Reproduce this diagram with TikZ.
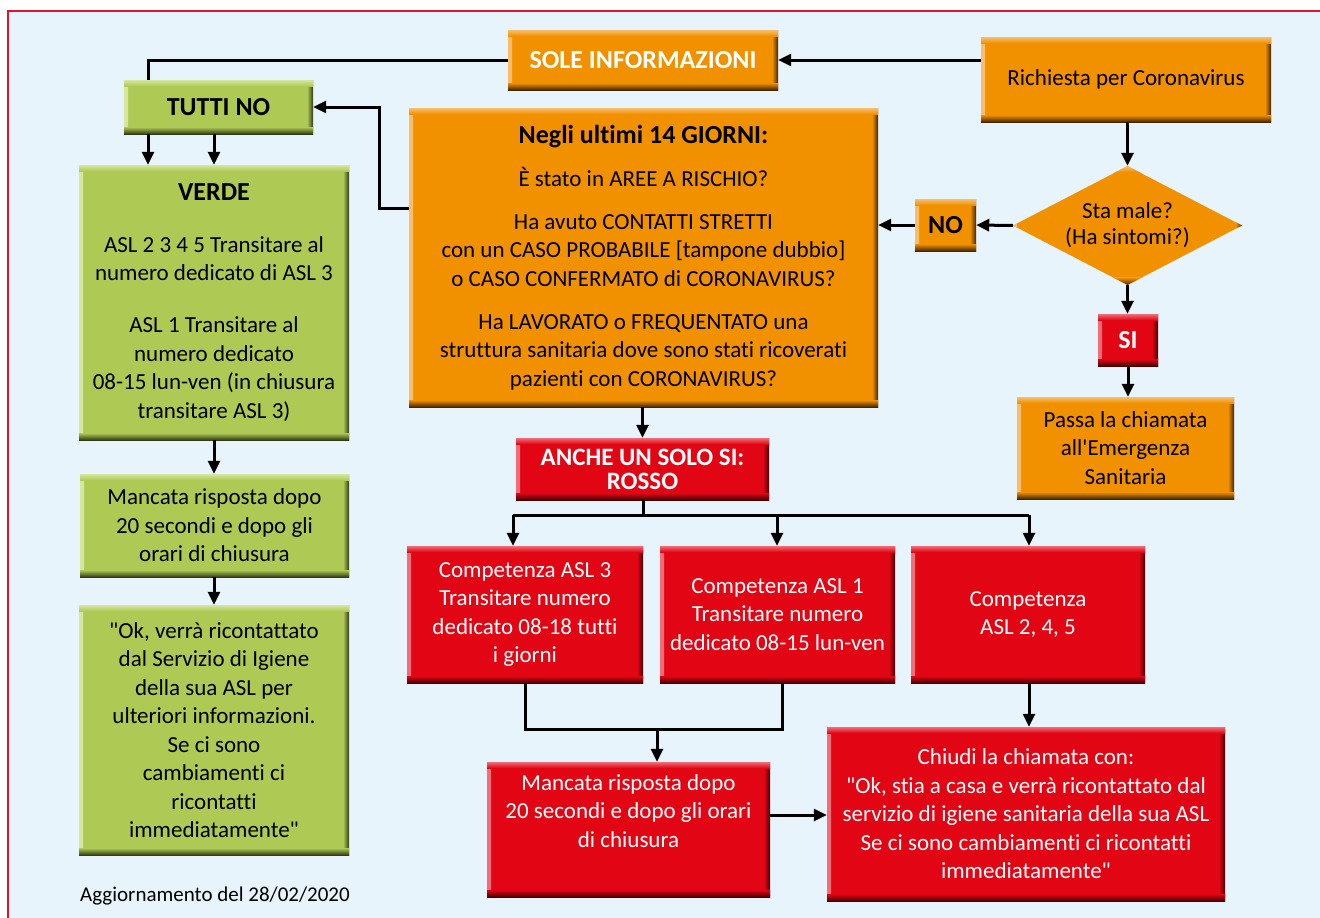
\documentclass[tikz,border=0pt]{standalone}
\usepackage{fontspec}
\setmainfont{Carlito}[Ligatures=NoCommon]
\usetikzlibrary{arrows.meta,shapes.geometric}
\definecolor{bg}{RGB}{232,244,252}
\definecolor{frame}{RGB}{226,20,40}
\definecolor{ora}{RGB}{241,145,0}
\definecolor{oraL}{RGB}{248,190,110}
\definecolor{oraD}{RGB}{70,38,0}
\definecolor{gre}{RGB}{175,201,85}
\definecolor{greL}{RGB}{215,230,160}
\definecolor{greD}{RGB}{50,60,20}
\definecolor{rd}{RGB}{226,6,20}
\definecolor{rdL}{RGB}{240,110,120}
\definecolor{rdD}{RGB}{70,0,5}
\newcommand\dq{\textquotedbl}
\newcommand\sq{\textquotesingle}
\newcommand\boxbevel[3]{%
  \shade[left color=#1, right color=#2] (path picture bounding box.north west) rectangle ([xshift=4pt]path picture bounding box.south west);
  \shade[left color=#2, right color=#3] ([xshift=-6pt]path picture bounding box.north east) rectangle (path picture bounding box.south east);
  \shade[top color=#1, bottom color=#2] (path picture bounding box.north west) rectangle ([yshift=-6pt]path picture bounding box.north east);
  \shade[top color=#2, bottom color=#3] ([yshift=7pt]path picture bounding box.south west) rectangle (path picture bounding box.south east);
}
\newcommand\bigb{\fontsize{26}{28.5}\selectfont\bfseries}
\tikzset{
  box/.style={draw=none, inner sep=0pt, align=center, font=\fontsize{23}{28.5}\selectfont},
  obox/.style={box, fill=ora, path picture={\boxbevel{oraL}{ora}{oraD}}},
  gbox/.style={box, fill=gre, path picture={\boxbevel{greL}{gre}{greD}}},
  rbox/.style={box, fill=rd, text=white, path picture={\boxbevel{rdL}{rd}{rdD}}},
  conn/.style={line width=3pt, black},
  arr/.style={conn, -{Triangle[length=13pt,width=12pt]}},
}
\begin{document}
\begin{tikzpicture}[x=1pt,y=-1pt]
\useasboundingbox (0,0) rectangle (1320,918);
\fill[bg] (8,11) rectangle (1320,918);
\draw[frame, line width=1.6pt] (1320,11) -- (8,11) -- (8,918);

% nodes
\node[obox, minimum width=270pt, minimum height=60pt, text=white, font=\bigb] (sole) at (643,60) {SOLE INFORMAZIONI};
\node[obox, minimum width=290pt, minimum height=85pt] (rich) at (1126,79.5) {Richiesta per Coronavirus};
\node[gbox, minimum width=189pt, minimum height=54pt, font=\bigb] (tutti) at (218.5,107) {TUTTI NO};
\node[obox, minimum width=469pt, minimum height=299pt] (negli) at (643.5,257.5) {{\bigb Negli ultimi 14 GIORNI:}\\[14.5pt]
È stato in AREE A RISCHIO?\\[14.5pt]
Ha avuto CONTATTI STRETTI\\ con un CASO PROBABILE [tampone dubbio]\\ o CASO CONFERMATO di CORONAVIRUS?\\[14.5pt]
Ha LAVORATO o FREQUENTATO una\\ struttura sanitaria dove sono stati ricoverati\\ pazienti con CORONAVIRUS?};
\node[gbox, minimum width=270pt, minimum height=275pt] (verde) at (214,302.5) {{\bigb VERDE}\\[23.5pt]
ASL 2 3 4 5 Transitare al\\ numero dedicato di ASL 3\\[23.5pt]
ASL 1 Transitare al\\ numero dedicato\\ 08-15 lun-ven (in chiusura\\ transitare ASL 3)};
\node[obox, minimum width=61pt, minimum height=52pt, font=\bigb] (no) at (945.5,225) {NO};
\node[obox, shape=diamond, minimum width=229pt, minimum height=119pt, aspect=1.9, font=\fontsize{23}{26}\selectfont] (dia) at (1127.5,225.5) {Sta male?\\(Ha sintomi?)};
\node[rbox, minimum width=60pt, minimum height=52pt, font=\bigb] (si) at (1128,340) {SI};
\node[obox, minimum width=217pt, minimum height=102pt] (passa) at (1125.5,448) {Passa la chiamata\\ all\sq Emergenza\\ Sanitaria};
\node[rbox, minimum width=253pt, minimum height=62pt, font=\fontsize{25}{24}\selectfont\bfseries] (anche) at (642.5,469) {ANCHE UN SOLO SI:\\ ROSSO};
\node[gbox, minimum width=269pt, minimum height=103pt] (mancg) at (214.5,525.5) {Mancata risposta dopo\\ 20 secondi e dopo gli\\ orari di chiusura};
\node[gbox, minimum width=270pt, minimum height=250pt] (okg) at (214,730) {\dq Ok, verrà ricontattato\\ dal Servizio di Igiene\\ della sua ASL per\\ ulteriori informazioni.\\ Se ci sono\\ cambiamenti ci\\ ricontatti\\ immediatamente\dq};
\node[rbox, minimum width=236pt, minimum height=137pt] (c3) at (525,614.5) {Competenza ASL 3\\ Transitare numero\\ dedicato 08-18 tutti\\ i giorni};
\node[rbox, minimum width=235pt, minimum height=137pt] (c1) at (777.5,614.5) {Competenza ASL 1\\ Transitare numero\\ dedicato 08-15 lun-ven};
\node[rbox, minimum width=234pt, minimum height=137pt] (c245) at (1028,614.5) {Competenza\\ ASL 2, 4, 5};
\node[rbox, minimum width=283pt, minimum height=135pt] (mancr) at (628.5,829.5) {Mancata risposta dopo\\ 20 secondi e dopo gli orari\\ di chiusura\\ \strut};
\node[rbox, minimum width=398pt, minimum height=174pt] (chiudi) at (1026,814) {Chiudi la chiamata con:\\ \dq Ok, stia a casa e verrà ricontattato dal\\ servizio di igiene sanitaria della sua ASL\\ Se ci sono cambiamenti ci ricontatti\\ immediatamente\dq};
\node[font=\fontsize{21}{24}\selectfont, inner sep=0pt, anchor=west] (date) at (80,896) {Aggiornamento del 28/02/2020};

% connectors
\coordinate (xa) at (148,0);
\coordinate (xb) at (214,0);
\coordinate (k1) at (379,208);
\draw[arr] (rich.west |- sole.east) -- (sole.east);
\draw[conn] (sole.west) -| (xa |- tutti.north);
\draw[arr] (k1 -| negli.west) -- (k1) |- (tutti.east);
\draw[arr] (xa |- tutti.south) -- (xa |- verde.north);
\draw[arr] (xb |- tutti.south) -- (xb |- verde.north);
\draw[arr] (xb |- verde.south) -- (xb |- mancg.north);
\draw[arr] (xb |- mancg.south) -- (xb |- okg.north);
\draw[arr] (rich.south -| dia.north) -- (dia.north);
\draw[arr] (dia.west) -- (no.east);
\draw[arr] (no.west) -- (no.west -| negli.east);
\draw[arr] (dia.south) -- (dia.south |- si.north);
\draw[arr] (si.south) -- (si.south |- passa.north);
\draw[arr] (negli.south -| anche.north) -- (anche.north);

\coordinate (bus) at (643,515);
\coordinate (bl) at (513,515);
\coordinate (bm) at (777,515);
\coordinate (br) at (1029,515);
\draw[conn] (anche.south -| bus) -- (bus);
\draw[conn] (bl) -- (br);
\draw[arr] (bl) -- (bl |- c3.north);
\draw[arr] (bm) -- (bm |- c1.north);
\draw[arr] (br) -- (br |- c245.north);

\coordinate (ja) at (525,729);
\coordinate (jb) at (782,729);
\coordinate (jm) at (657,729);
\draw[conn] (ja |- c3.south) -- (ja) -- (jb) -- (jb |- c1.south);
\draw[arr] (jm) -- (jm |- mancr.north);
\draw[arr] (c245.south -| br) -- (br |- chiudi.north);
\draw[arr] (mancr.east |- 0,815) -- (chiudi.west |- 0,815);
\end{tikzpicture}
\end{document}
